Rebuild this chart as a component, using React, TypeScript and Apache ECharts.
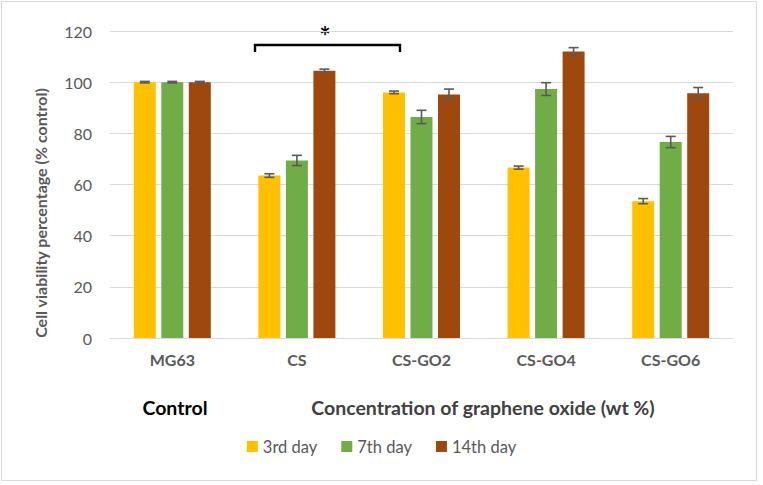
import React, { useEffect, useRef } from "react";
import * as echarts from "echarts";

const categories = ["MG63", "CS", "CS-GO2", "CS-GO4", "CS-GO6"];
const seriesNames = ["3rd day", "7th day", "14th day"];
const day3 = [100, 63.5, 96.0, 66.6, 53.5];
const day7 = [100, 69.4, 86.4, 97.3, 76.6];
const day14 = [100, 104.5, 95.2, 112.0, 95.7];
const err3 = [0.3, 0.7, 0.5, 0.6, 1.0];
const err7 = [0.3, 2.0, 2.6, 2.5, 2.2];
const err14 = [0.3, 0.6, 2.1, 1.5, 2.2];
const yTicks = [0, 20, 40, 60, 80, 100, 120];
const colors = ["#FFC000", "#70AD47", "#9E480E"];

const FONT = "Lato";
const BAR_W = 22;
const STEP = 27.5;

export default function App() {
  const ref = useRef<HTMLDivElement>(null);
  useEffect(() => {
    if (!ref.current) return;
    const chart = echarts.init(ref.current, null, { renderer: "svg" });
    const values = [day3, day7, day14];
    const errs = [err3, err7, err14];
    const errData: number[][] = [];
    values.forEach((vals, s) => {
      vals.forEach((v, i) => errData.push([i, v, errs[s][i], s]));
    });
    const barSeries = values.map((vals, s) => ({
      type: "bar",
      name: seriesNames[s],
      data: vals,
      barWidth: BAR_W,
      barGap: "25%",
      itemStyle: { color: colors[s] },
      z: 2,
    }));
    chart.setOption({
      animation: false,
      textStyle: { fontFamily: FONT },
      grid: { left: 110, right: 30, top: 31, bottom: 147 },
      legend: {
        bottom: 25,
        left: "center",
        itemWidth: 11,
        itemHeight: 11,
        itemGap: 24,
        icon: "rect",
        data: seriesNames,
        textStyle: { color: "#595959", fontSize: 16.5, fontFamily: FONT },
      },
      xAxis: {
        type: "category",
        data: categories,
        axisLine: { lineStyle: { color: "#d9d9d9", width: 1 } },
        axisTick: { show: false },
        axisLabel: {
          color: "#595959",
          fontSize: 16,
          fontWeight: "bold",
          fontFamily: FONT,
          margin: 13,
        },
      },
      yAxis: {
        type: "value",
        min: yTicks[0],
        max: yTicks[yTicks.length - 1],
        interval: 20,
        axisLine: { show: false },
        axisTick: { show: false },
        splitLine: { lineStyle: { color: "#d9d9d9", width: 1 } },
        axisLabel: { color: "#595959", fontSize: 16, fontFamily: FONT, margin: 18 },
      },
      series: [
        ...barSeries,
        {
          type: "custom",
          data: errData,
          z: 5,
          silent: true,
          renderItem: (params: any, api: any) => {
            const cat = api.value(0);
            const v = api.value(1);
            const e = api.value(2);
            const s = api.value(3);
            const off = (s - 1) * STEP;
            const top = api.coord([cat, v + e]);
            const bot = api.coord([cat, v - e]);
            const x = top[0] + off;
            const cap = 5;
            const st = { stroke: "#5a5a5a", lineWidth: 1.6 };
            return {
              type: "group",
              children: [
                { type: "line", shape: { x1: x, y1: top[1], x2: x, y2: bot[1] }, style: st },
                { type: "line", shape: { x1: x - cap, y1: top[1], x2: x + cap, y2: top[1] }, style: st },
                { type: "line", shape: { x1: x - cap, y1: bot[1], x2: x + cap, y2: bot[1] }, style: st },
              ],
            };
          },
        },
      ],
      graphic: [
        {
          type: "rect",
          shape: { x: 1.5, y: 1.5, width: 755, height: 479 },
          style: { fill: "none", stroke: "#d9d9d9", lineWidth: 1 },
          silent: true,
        },
        {
          type: "text",
          x: 40,
          y: 213,
          rotation: Math.PI / 2,
          style: {
            text: "Cell viability percentage (% control)",
            fontSize: 16,
            fontWeight: "bold",
            fill: "#595959",
            fontFamily: FONT,
            align: "center",
            verticalAlign: "middle",
          },
        },
        {
          type: "polyline",
          shape: { points: [[255, 52], [255, 45], [400, 45], [400, 52]] },
          style: { fill: "none", stroke: "#000", lineWidth: 2.4 },
        },
        {
          type: "text",
          x: 325,
          y: 36,
          style: {
            text: "*",
            fontSize: 26,
            fontWeight: "bold",
            fill: "#000",
            fontFamily: FONT,
            align: "center",
            verticalAlign: "middle",
          },
        },
        {
          type: "text",
          x: 175,
          y: 407,
          style: {
            text: "Control",
            fontSize: 19.5,
            fontWeight: "bold",
            fill: "#000",
            fontFamily: FONT,
            align: "center",
            verticalAlign: "middle",
          },
        },
        {
          type: "text",
          x: 483,
          y: 407,
          style: {
            text: "Concentration of graphene oxide (wt %)",
            fontSize: 19.5,
            fontWeight: "bold",
            fill: "#404040",
            fontFamily: FONT,
            align: "center",
            verticalAlign: "middle",
          },
        },
      ],
    });
    return () => chart.dispose();
  }, []);
  return (
    <div
      ref={ref}
      style={{ position: "absolute", left: 0, top: 0, width: 763, height: 485, background: "#fff" }}
    />
  );
}
